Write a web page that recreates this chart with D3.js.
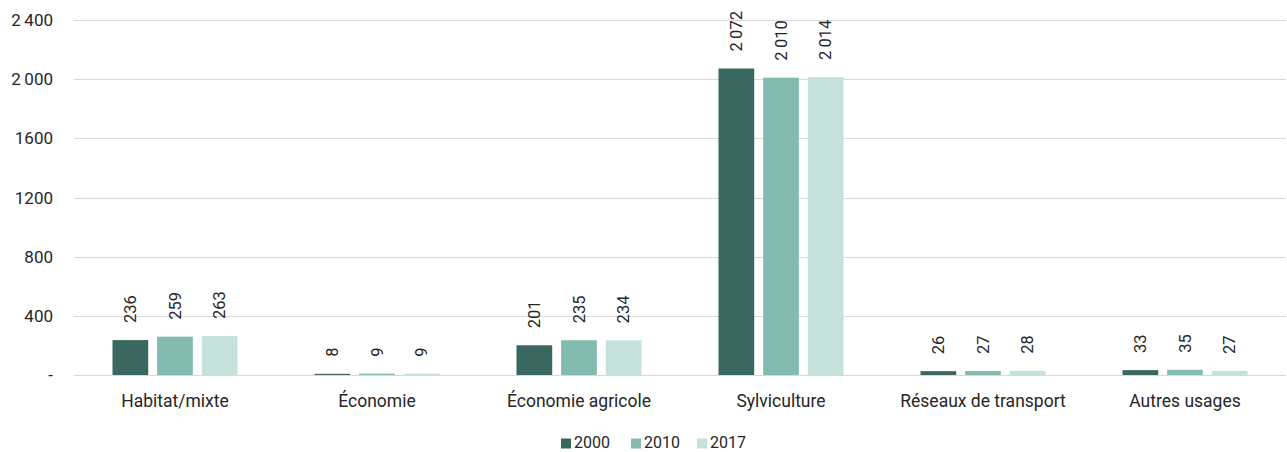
<!DOCTYPE html>
<html><head><meta charset="utf-8">
<script src="https://cdn.jsdelivr.net/npm/d3@7"></script>
<style>
body{margin:0;background:#fff;}
svg{display:block;font-family:"Roboto","Inter",sans-serif;}
</style></head>
<body>
<svg id="chart" width="1287" height="452"></svg>
<script>
const categories = ["Habitat/mixte","Économie","Économie agricole","Sylviculture","Réseaux de transport","Autres usages"];
const series = ["2000","2010","2017"];
const values2000 = [236, 8, 201, 2072, 26, 33];
const values2010 = [259, 9, 235, 2010, 27, 35];
const values2017 = [263, 9, 234, 2014, 28, 27];
const yTicks = [0, 400, 800, 1200, 1600, 2000, 2400];
const yTickLabels = ["-", "400", "800", "1200", "1600", "2\u2009000", "2\u2009400"];
const colors = ["#3a675f", "#83bbb1", "#c5e1db"];

(function(){
const allValues = [values2000, values2010, values2017];
const svg = d3.select("#chart");
const mLeft = 74, mRight = 1286, mTop = 20, mBottom = 375;

const y = d3.scaleLinear().domain([0, 2400]).range([mBottom, mTop]);
const x0 = d3.scaleBand().domain(categories).range([mLeft, mRight]).paddingInner(0).paddingOuter(0);
const x1 = d3.scaleBand().domain(series).range([-62.5, 62.5]).paddingInner(0.2).paddingOuter(0);

// gridlines
svg.append("g").selectAll("line").data(yTicks).join("line")
  .attr("x1", mLeft).attr("x2", mRight)
  .attr("y1", d => Math.round(y(d)) + 0.5).attr("y2", d => Math.round(y(d)) + 0.5)
  .attr("stroke", "#d9d9d9").attr("stroke-width", 1.2);

// y labels
svg.append("g").selectAll("text").data(yTicks).join("text")
  .attr("x", 53).attr("y", d => y(d))
  .attr("text-anchor", "end").attr("dominant-baseline", "central")
  .attr("font-size", 17).attr("fill", "#262626")
  .text((d, i) => yTickLabels[i]);

const fmt = v => d3.format(",")(v).replace(/,/g, "\u2009");

categories.forEach((c, ci) => {
  const cx = x0(c) + x0.bandwidth() / 2;
  series.forEach((s, si) => {
    const v = allValues[si][ci];
    const bx = cx + x1(s);
    svg.append("rect")
      .attr("x", bx).attr("y", y(v))
      .attr("width", x1.bandwidth()).attr("height", y(0) - y(v))
      .attr("fill", colors[si]);
    const lx = bx + x1.bandwidth() / 2;
    const ly = y(v) - 17;
    svg.append("text")
      .attr("transform", `translate(${lx},${ly}) rotate(-90)`)
      .attr("text-anchor", "start").attr("dominant-baseline", "central")
      .attr("font-size", 16.5).attr("fill", "#262626")
      .text(fmt(v));
  });
  svg.append("text")
    .attr("x", cx).attr("y", 407)
    .attr("text-anchor", "middle")
    .attr("font-size", 17.5).attr("fill", "#262626")
    .text(c);
});

// legend
const legX = [561, 631, 697];
series.forEach((s, i) => {
  svg.append("rect").attr("x", legX[i]).attr("y", 438.5).attr("width", 10).attr("height", 10).attr("fill", colors[i]);
  svg.append("text").attr("x", legX[i] + 13).attr("y", 447.5)
    .attr("font-size", 16).attr("fill", "#262626").text(s);
});
})();
</script>
</body></html>
